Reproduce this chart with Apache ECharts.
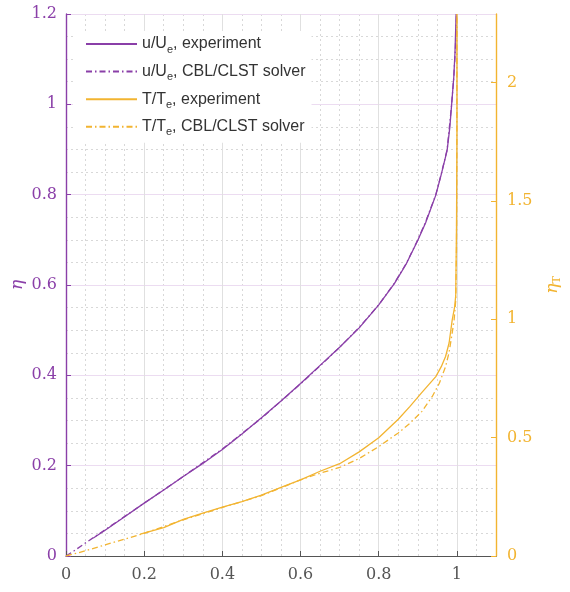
<!DOCTYPE html>
<html>
<head>
<meta charset="utf-8">
<script src="https://cdn.jsdelivr.net/npm/echarts@6/dist/echarts.min.js"></script>
<style>
  html, body { margin: 0; padding: 0; background: #fff; }
  #chart { width: 570px; height: 592px; }
</style>
</head>
<body>
<div id="chart"></div>
<script>
// Velocity profile, pairs of [u/U_e, eta]
const uExperiment = [
  [0.07, 0.04], [0.1, 0.057], [0.15, 0.087], [0.2, 0.117], [0.25, 0.146],
  [0.3, 0.176], [0.35, 0.205], [0.4, 0.236], [0.45, 0.27], [0.5, 0.306],
  [0.55, 0.343], [0.6, 0.382], [0.65, 0.422], [0.7, 0.462], [0.75, 0.505],
  [0.8, 0.556], [0.84, 0.603], [0.87, 0.646], [0.9, 0.699], [0.92, 0.738],
  [0.946, 0.799], [0.96, 0.845], [0.975, 0.898], [0.982, 0.95], [0.986, 0.994],
  [0.992, 1.06], [0.995, 1.113], [0.998, 1.2]
];
const uSolver = [
  [0, 0], [0.02, 0.011], [0.05, 0.029], [0.1, 0.058], [0.2, 0.117],
  [0.3, 0.176], [0.4, 0.237], [0.5, 0.305], [0.6, 0.381], [0.65, 0.421],
  [0.7, 0.462], [0.75, 0.506], [0.8, 0.556], [0.84, 0.604], [0.87, 0.647],
  [0.9, 0.7], [0.92, 0.74], [0.946, 0.8], [0.96, 0.846], [0.975, 0.9],
  [0.986, 0.995], [0.992, 1.06], [0.996, 1.12], [0.999, 1.2]
];

// Temperature profile, pairs of [T/T_e, eta_T]
const tExperiment = [
  [0.19, 0.092], [0.25, 0.12], [0.3, 0.155], [0.35, 0.181], [0.4, 0.206],
  [0.45, 0.23], [0.5, 0.257], [0.55, 0.29], [0.6, 0.322], [0.65, 0.358],
  [0.7, 0.39], [0.75, 0.44], [0.8, 0.5], [0.85, 0.578], [0.88, 0.632],
  [0.91, 0.69], [0.946, 0.758], [0.96, 0.8], [0.971, 0.843], [0.98, 0.9],
  [0.988, 0.998], [0.994, 1.05], [0.997, 1.1], [0.999, 1.4], [1.0, 1.8],
  [1.0, 2.29]
];
const tSolver = [
  [0, 0], [0.05, 0.022], [0.1, 0.047], [0.15, 0.071], [0.2, 0.096],
  [0.3, 0.153], [0.4, 0.205], [0.5, 0.255], [0.6, 0.322], [0.65, 0.35],
  [0.7, 0.374], [0.75, 0.412], [0.8, 0.462], [0.85, 0.52], [0.88, 0.561],
  [0.91, 0.61], [0.937, 0.674], [0.955, 0.73], [0.971, 0.8], [0.98, 0.86],
  [0.988, 0.943], [0.993, 1.0], [0.997, 1.08], [0.999, 1.3], [1.0, 1.8],
  [1.0, 2.29]
];

// Tick labels
const xTicks = [0, 0.2, 0.4, 0.6, 0.8, 1];
const etaTicks = [0, 0.2, 0.4, 0.6, 0.8, 1, 1.2];
const etaTTicks = [0, 0.5, 1, 1.5, 2];

// Legend entries
const seriesNames = ['uExp', 'uSol', 'tExp', 'tSol'];
const legendTexts = {
  uExp: 'u/U{sub|e}, experiment',
  uSol: 'u/U{sub|e}, CBL/CLST solver',
  tExp: 'T/T{sub|e}, experiment',
  tSol: 'T/T{sub|e}, CBL/CLST solver'
};

const PURPLE = '#8a3fa8';
const ORANGE = '#f2b431';
const DASH_DOT = [6, 3, 1.5, 3];
const TICK_FONT = 'DejaVu Serif';

const chart = echarts.init(document.getElementById('chart'), null, { renderer: 'canvas' });

const minorSplit = {
  show: true,
  lineStyle: { color: '#d8d8d8', type: [2, 3], width: 1 }
};

function lineSeries(name, data, yIndex, color, type, z) {
  return {
    name, type: 'line', data, xAxisIndex: 0, yAxisIndex: yIndex,
    symbol: 'circle', showSymbol: false, z,
    lineStyle: { color, width: 1.3, type }, itemStyle: { color }
  };
}

chart.setOption({
  animation: false,
  backgroundColor: '#fff',
  grid: { left: 66, right: 74, top: 14, bottom: 36, containLabel: false, outerBoundsMode: 'none' },
  legend: {
    data: seriesNames,
    orient: 'vertical',
    left: 73,
    top: 31,
    padding: [5, 6, 5, 12],
    itemWidth: 51,
    itemHeight: 14,
    itemGap: 8.6,
    backgroundColor: '#fff',
    // only the line sample is shown next to each entry
    itemStyle: { opacity: 0 },
    formatter: name => legendTexts[name],
    textStyle: {
      fontFamily: 'Liberation Sans',
      fontSize: 16,
      color: '#333',
      rich: {
        sub: { fontSize: 11, fontFamily: 'Liberation Sans', color: '#333', verticalAlign: 'bottom', padding: [11, 0, 0, 0] }
      }
    }
  },
  xAxis: [
    {
      type: 'value', min: 0, max: 1.1, interval: 0.2, z: 3,
      axisLine: { show: true, onZero: false, lineStyle: { color: '#555', width: 1.2 } },
      axisTick: { show: true, inside: true, length: 5, customValues: xTicks, lineStyle: { color: '#555' } },
      axisLabel: { customValues: xTicks, fontFamily: TICK_FONT, fontSize: 16, color: '#555', margin: 11 },
      splitLine: { show: true, lineStyle: { color: '#e0e0e0', width: 1 } }
    },
    {
      type: 'value', min: 0, max: 1.1, interval: 0.05, position: 'top', z: 1,
      axisLine: { show: false, onZero: false }, axisTick: { show: false }, axisLabel: { show: false },
      splitLine: minorSplit
    }
  ],
  yAxis: [
    {
      type: 'value', min: 0, max: 1.2, interval: 0.2, position: 'left', z: 3,
      name: 'η', nameLocation: 'middle', nameGap: 40, nameRotate: 90, nameMoveOverlap: false,
      nameTextStyle: { fontFamily: 'DejaVu Serif', fontStyle: 'italic', fontSize: 17, color: PURPLE },
      axisLine: { show: true, onZero: false, lineStyle: { color: PURPLE, width: 1.4 } },
      axisTick: { show: true, inside: true, length: 5, customValues: etaTicks, lineStyle: { color: PURPLE } },
      axisLabel: { customValues: etaTicks, fontFamily: TICK_FONT, fontSize: 16, color: PURPLE, margin: 9 },
      splitLine: { show: true, lineStyle: { color: '#ecdcf1', width: 1 } }
    },
    {
      type: 'value', min: 0, max: 2.29, interval: 0.5, position: 'right', z: 3,
      name: '{a|η}{b|T}', nameLocation: 'middle', nameGap: 47, nameRotate: 90,
      nameTextStyle: {
        color: ORANGE,
        rich: {
          a: { fontFamily: 'DejaVu Serif', fontStyle: 'italic', fontSize: 17, color: ORANGE },
          b: { fontFamily: 'DejaVu Serif', fontSize: 11, color: ORANGE, padding: [9, 0, 0, 0] }
        }
      },
      axisLine: { show: true, onZero: false, lineStyle: { color: ORANGE, width: 1.4 } },
      axisTick: { show: true, inside: true, length: 5, customValues: etaTTicks, lineStyle: { color: ORANGE } },
      axisLabel: { customValues: etaTTicks, fontFamily: TICK_FONT, fontSize: 16, color: ORANGE, margin: 11 },
      splitLine: { show: false }
    },
    {
      type: 'value', min: 0, max: 1.2, interval: 0.05, position: 'left', z: 1,
      axisLine: { show: false, onZero: false }, axisTick: { show: false }, axisLabel: { show: false },
      splitLine: minorSplit
    }
  ],
  series: [
    lineSeries('uSol', uSolver, 0, PURPLE, DASH_DOT, 4),
    lineSeries('uExp', uExperiment, 0, PURPLE, 'solid', 5),
    lineSeries('tSol', tSolver, 1, ORANGE, DASH_DOT, 4),
    lineSeries('tExp', tExperiment, 1, ORANGE, 'solid', 5)
  ]
});
</script>
</body>
</html>
